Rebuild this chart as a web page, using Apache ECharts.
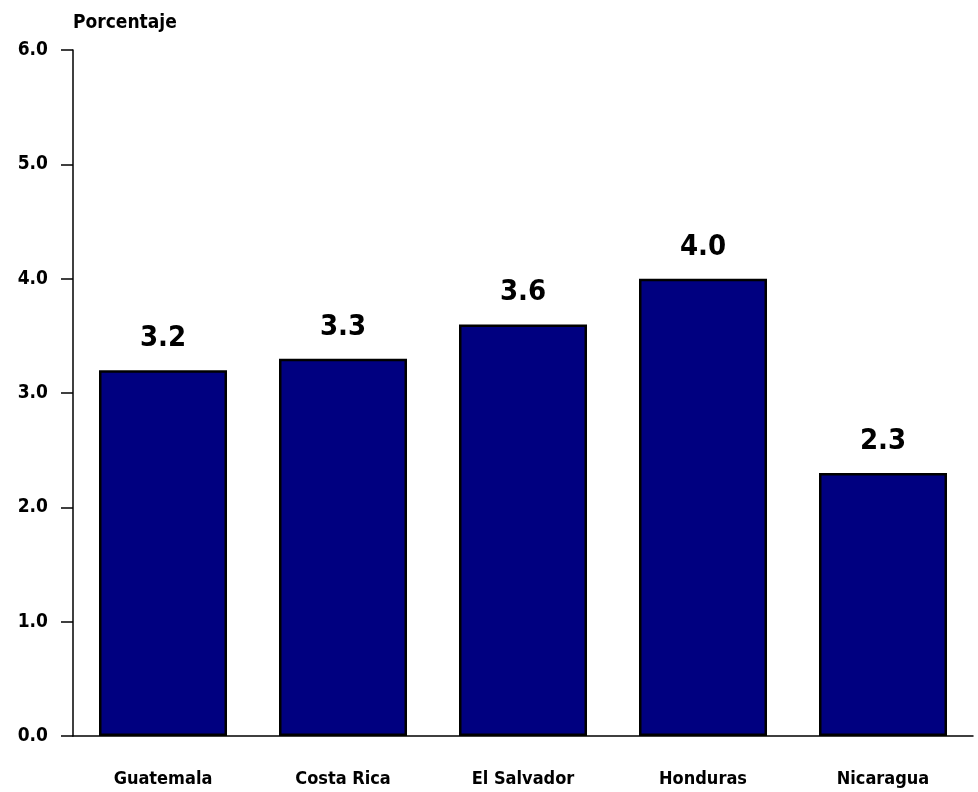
<!DOCTYPE html>
<html>
<head>
<meta charset="utf-8">
<script src="https://cdn.jsdelivr.net/npm/echarts@6/dist/echarts.min.js"></script>
<style>
  html, body { margin: 0; padding: 0; background: #fff; }
  #chart { width: 978px; height: 792px; }
</style>
</head>
<body>
<div id="chart"></div>
<script>
// Countries and their percentages
const countries = ['Guatemala', 'Costa Rica', 'El Salvador', 'Honduras', 'Nicaragua'];
const values = [3.2, 3.3, 3.6, 4.0, 2.3];
const yAxisName = 'Porcentaje';

const fontFamily = '"Liberation Sans Narrow", "Arial Narrow", "DejaVu Sans Condensed", sans-serif';

const chart = echarts.init(document.getElementById('chart'));
chart.setOption({
  animation: false,
  backgroundColor: '#ffffff',
  grid: { left: 73, right: 5, top: 50, bottom: 56 },
  xAxis: {
    type: 'category',
    data: countries,
    axisLine: { lineStyle: { color: '#000', width: 1.5 } },
    axisTick: { alignWithLabel: true, length: 22, lineStyle: { color: '#000', width: 1.5 } },
    axisLabel: {
      color: '#000', fontFamily, fontWeight: 'bold', fontSize: 18, margin: 34
    }
  },
  yAxis: {
    type: 'value',
    min: 0, max: 6, interval: 1,
    name: yAxisName,
    nameLocation: 'end',
    nameGap: 17,
    nameTextStyle: {
      color: '#000', fontFamily, fontWeight: 'bold', fontSize: 19,
      align: 'left'
    },
    splitLine: { show: false },
    axisLine: { show: true, lineStyle: { color: '#000', width: 1.5 } },
    axisTick: { show: true, length: 12, lineStyle: { color: '#000', width: 1.5 } },
    axisLabel: {
      color: '#000', fontFamily, fontWeight: 'bold', fontSize: 19, margin: 25,
      formatter: v => v.toFixed(1)
    }
  },
  series: [{
    type: 'bar',
    data: values,
    barWidth: 128,
    itemStyle: { color: '#000080', borderColor: '#000', borderWidth: 2.5 },
    label: {
      show: true,
      position: 'top',
      distance: 17,
      color: '#000', fontFamily, fontWeight: 'bold', fontSize: 29,
      formatter: p => p.value.toFixed(1)
    }
  }]
});
</script>
</body>
</html>
